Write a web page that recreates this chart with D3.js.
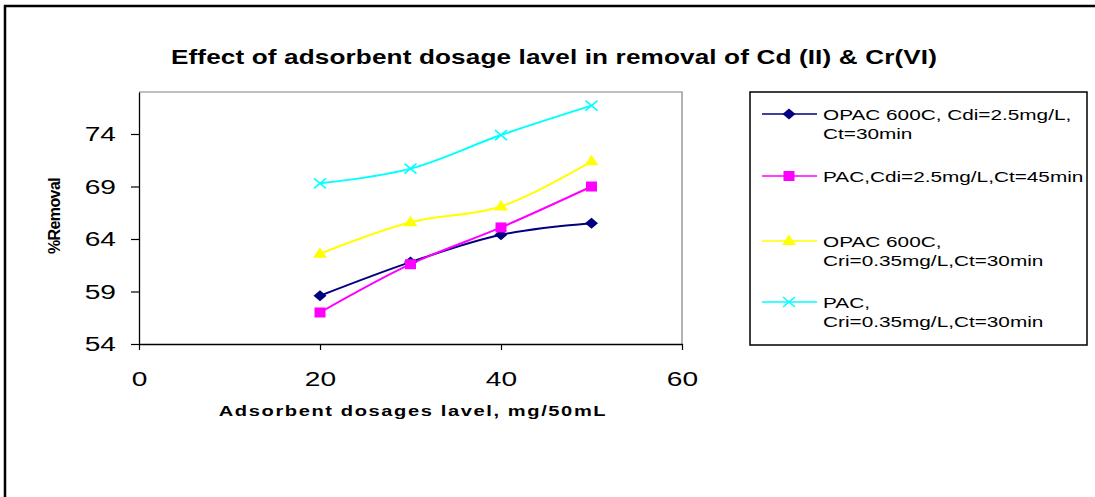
<!DOCTYPE html>
<html>
<head>
<meta charset="utf-8">
<script src="https://cdn.jsdelivr.net/npm/d3@7"></script>
<style>
  body { margin: 0; background: #fff; }
  text { font-family: Arial, "Liberation Sans", sans-serif; }
</style>
</head>
<body>
<svg id="grafico" width="1095" height="497"></svg>
<script>
// Datos
const dosis = [20, 30, 40, 50];
const opacCd = [58.6, 61.8, 64.4, 65.5];
const pacCd = [57.0, 61.6, 65.1, 69.0];
const opacCr = [62.6, 65.6, 67.1, 71.4];
const pacCr = [69.3, 70.7, 73.9, 76.7];
const nombresSeries = [
  ['OPAC 600C, Cdi=2.5mg/L,', 'Ct=30min'],
  ['PAC,Cdi=2.5mg/L,Ct=45min'],
  ['OPAC 600C,', 'Cri=0.35mg/L,Ct=30min'],
  ['PAC,', 'Cri=0.35mg/L,Ct=30min']
];
const ticksX = [0, 20, 40, 60];
const ticksY = [54, 59, 64, 69, 74];
const titulo = 'Effect of adsorbent dosage lavel in removal of Cd (II) & Cr(VI)';
const tituloX = 'Adsorbent dosages lavel, mg/50mL';
const tituloY = '%Removal';

// Estilos por serie
const colores = ['#000080', '#ff00ff', '#ffff00', '#00ffff'];
const marcas = ['diamante', 'cuadrado', 'triangulo', 'cruz'];
const series = [opacCd, pacCd, opacCr, pacCr];

// el original esta estirado en horizontal
const sx = 1.34;

const svg = d3.select('#grafico');

// Marco exterior (cortado a la derecha y abajo)
svg.append('rect')
  .attr('x', 5).attr('y', 6)
  .attr('width', 1110).attr('height', 510)
  .attr('fill', 'none').attr('stroke', '#000').attr('stroke-width', 2.5);

function texto(x, y, t, tam, peso, ancla, espacio) {
  svg.append('text')
    .attr('transform', `translate(${x},${y}) scale(${sx},1)`)
    .attr('text-anchor', ancla || 'start')
    .attr('font-size', tam)
    .attr('font-weight', peso || 'normal')
    .attr('letter-spacing', espacio || 0)
    .attr('fill', '#000')
    .text(t);
}

// Titulo
texto(554, 64, titulo, 19.5, 'bold', 'middle', 0.1);

// Area de trazado
const area = { izq: 139, der: 682, sup: 92, inf: 344 };

const escalaX = d3.scaleLinear().domain([0, 60]).range([area.izq, area.der]);
const escalaY = d3.scaleLinear().domain([54, 78]).range([area.inf, area.sup]);

// Borde gris superior y derecho
svg.append('path')
  .attr('d', `M${area.izq},${area.sup}H${area.der}V${area.inf}`)
  .attr('fill', 'none').attr('stroke', '#808080').attr('stroke-width', 1.2);

// Eje x
const ejeX = d3.axisBottom(escalaX).tickValues(ticksX).tickSize(6).tickPadding(21).tickSizeOuter(0);
const gX = svg.append('g')
  .attr('transform', `translate(0,${area.inf})`)
  .call(ejeX);
gX.select('.domain').attr('stroke', '#000').attr('stroke-width', 1.3);
gX.selectAll('line').attr('stroke', '#000').attr('stroke-width', 1.2);
gX.selectAll('text')
  .attr('font-size', 21)
  .attr('fill', '#000')
  .attr('font-family', 'Arial, "Liberation Sans", sans-serif')
  .attr('transform', `scale(${sx},1)`)
  .attr('x', 0);

// Eje y
const ejeY = d3.axisLeft(escalaY).tickValues(ticksY).tickSize(8).tickPadding(15).tickSizeOuter(0);
const gY = svg.append('g')
  .attr('transform', `translate(${area.izq},0)`)
  .call(ejeY);
gY.select('.domain').attr('stroke', '#000').attr('stroke-width', 1.3);
gY.selectAll('line').attr('stroke', '#000').attr('stroke-width', 1.2);
gY.selectAll('text')
  .attr('font-size', 21)
  .attr('fill', '#000')
  .attr('font-family', 'Arial, "Liberation Sans", sans-serif')
  .attr('x', -23 / sx)
  .attr('transform', `scale(${sx},1)`);

// Titulos de ejes
texto(413, 416, tituloX, 15, 'bold', 'middle', 1.2);
svg.append('text')
  .attr('transform', 'translate(60,216) rotate(-90)')
  .attr('text-anchor', 'middle')
  .attr('font-size', 16)
  .attr('font-weight', 'bold')
  .attr('letter-spacing', -0.6)
  .text(tituloY);

// Dibujar una marca
function marca(g, tipo, color) {
  if (tipo === 'diamante') {
    g.append('path').attr('d', 'M-6.5,0L0,-5.5L6.5,0L0,5.5Z').attr('fill', color);
  } else if (tipo === 'cuadrado') {
    g.append('rect').attr('x', -5.5).attr('y', -5).attr('width', 11).attr('height', 10).attr('fill', color);
  } else if (tipo === 'triangulo') {
    g.append('path').attr('d', 'M0,-6.5L7,4L-7,4Z').attr('fill', color);
  } else {
    g.append('path').attr('d', 'M-6,-5L6,5M-6,5L6,-5')
      .attr('stroke', color).attr('stroke-width', 1.6).attr('fill', 'none');
  }
}

// Lineas suavizadas
const linea = d3.line()
  .x((d, i) => escalaX(dosis[i]))
  .y(d => escalaY(d))
  .curve(d3.curveCatmullRom.alpha(0.5));

series.forEach((valores, s) => {
  svg.append('path')
    .attr('d', linea(valores))
    .attr('fill', 'none')
    .attr('stroke', colores[s])
    .attr('stroke-width', 2);
});

series.forEach((valores, s) => {
  valores.forEach((v, i) => {
    const g = svg.append('g')
      .attr('transform', `translate(${escalaX(dosis[i])},${escalaY(v)})`);
    marca(g, marcas[s], colores[s]);
  });
});

// Leyenda
svg.append('rect')
  .attr('x', 750).attr('y', 92)
  .attr('width', 337).attr('height', 253)
  .attr('fill', 'none').attr('stroke', '#000').attr('stroke-width', 1.5);

const filasLeyenda = [114, 176, 241, 302];
nombresSeries.forEach((lineas, s) => {
  const y = filasLeyenda[s];
  svg.append('line')
    .attr('x1', 762).attr('x2', 817)
    .attr('y1', y).attr('y2', y)
    .attr('stroke', colores[s]).attr('stroke-width', 1.5);
  const g = svg.append('g').attr('transform', `translate(789,${y})`);
  marca(g, marcas[s], colores[s]);
  lineas.forEach((t, k) => {
    texto(823, y + 5.5 + k * 19.5, t, 15.5);
  });
});
</script>
</body>
</html>
